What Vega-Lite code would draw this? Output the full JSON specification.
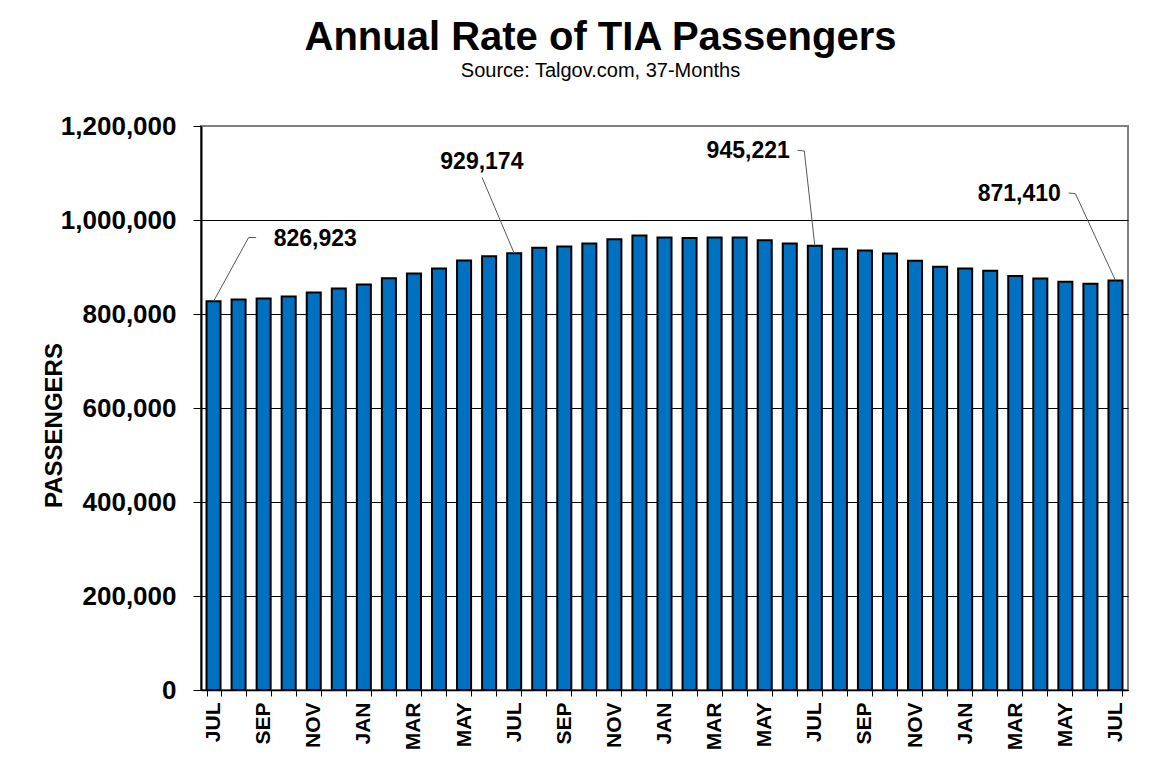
{
  "$schema": "https://vega.github.io/schema/vega-lite/v6.json",
  "autosize": "none",
  "padding": {"left": 201, "top": 126, "right": 47, "bottom": 80},
  "width": 927,
  "height": 564,
  "background": "white",
  "title": {
    "text": "Annual Rate of TIA Passengers",
    "subtitle": "Source: Talgov.com, 37-Months",
    "font": "Liberation Sans",
    "fontSize": 40,
    "fontWeight": "bold",
    "color": "black",
    "subtitleFont": "Liberation Sans",
    "subtitleFontSize": 20,
    "subtitleColor": "black",
    "subtitlePadding": 3,
    "anchor": "middle",
    "dx": -64,
    "offset": 32
  },
  "datasets": {
    "months": [
      {"n": 0, "month": "JUL", "passengers": 826923},
      {"n": 1, "month": "AUG", "passengers": 831000},
      {"n": 2, "month": "SEP", "passengers": 833000},
      {"n": 3, "month": "OCT", "passengers": 837000},
      {"n": 4, "month": "NOV", "passengers": 846000},
      {"n": 5, "month": "DEC", "passengers": 854000},
      {"n": 6, "month": "JAN", "passengers": 863000},
      {"n": 7, "month": "FEB", "passengers": 876000},
      {"n": 8, "month": "MAR", "passengers": 886000},
      {"n": 9, "month": "APR", "passengers": 897000},
      {"n": 10, "month": "MAY", "passengers": 914000},
      {"n": 11, "month": "JUN", "passengers": 923000},
      {"n": 12, "month": "JUL", "passengers": 929174},
      {"n": 13, "month": "AUG", "passengers": 941000},
      {"n": 14, "month": "SEP", "passengers": 943500},
      {"n": 15, "month": "OCT", "passengers": 950000},
      {"n": 16, "month": "NOV", "passengers": 959000},
      {"n": 17, "month": "DEC", "passengers": 967000},
      {"n": 18, "month": "JAN", "passengers": 963000},
      {"n": 19, "month": "FEB", "passengers": 961500},
      {"n": 20, "month": "MAR", "passengers": 963000},
      {"n": 21, "month": "APR", "passengers": 963000},
      {"n": 22, "month": "MAY", "passengers": 957000},
      {"n": 23, "month": "JUN", "passengers": 950000},
      {"n": 24, "month": "JUL", "passengers": 945221},
      {"n": 25, "month": "AUG", "passengers": 939000},
      {"n": 26, "month": "SEP", "passengers": 935000},
      {"n": 27, "month": "OCT", "passengers": 928500},
      {"n": 28, "month": "NOV", "passengers": 913500},
      {"n": 29, "month": "DEC", "passengers": 900500},
      {"n": 30, "month": "JAN", "passengers": 897000},
      {"n": 31, "month": "FEB", "passengers": 892000},
      {"n": 32, "month": "MAR", "passengers": 881000},
      {"n": 33, "month": "APR", "passengers": 875500},
      {"n": 34, "month": "MAY", "passengers": 868500},
      {"n": 35, "month": "JUN", "passengers": 864500},
      {"n": 36, "month": "JUL", "passengers": 871410}
    ],
    "labels": [
      {"label": "826,923", "pos": 4.06, "passengers": 960100},
      {"label": "929,174", "pos": 10.71, "passengers": 1123400},
      {"label": "945,221", "pos": 21.34, "passengers": 1146800},
      {"label": "871,410", "pos": 32.16, "passengers": 1054800}
    ],
    "leaders": [
      {"leader": "a", "order": 1, "pos": 0, "passengers": 826923},
      {"leader": "a", "order": 2, "pos": 1.4, "passengers": 962700},
      {"leader": "a", "order": 3, "pos": 1.7, "passengers": 962700},
      {"leader": "b", "order": 1, "pos": 10.72, "passengers": 1090300},
      {"leader": "b", "order": 2, "pos": 12, "passengers": 929174},
      {"leader": "c", "order": 1, "pos": 23.31, "passengers": 1148300},
      {"leader": "c", "order": 2, "pos": 23.58, "passengers": 1146800},
      {"leader": "c", "order": 3, "pos": 24, "passengers": 945221},
      {"leader": "d", "order": 1, "pos": 34.13, "passengers": 1057300},
      {"leader": "d", "order": 2, "pos": 34.4, "passengers": 1056200},
      {"leader": "d", "order": 3, "pos": 36, "passengers": 871410}
    ]
  },
  "layer": [
    {
      "data": {"name": "months"},
      "mark": {"type": "bar", "fill": "#0070C0", "stroke": "black", "strokeWidth": 2},
      "encoding": {
        "x": {
          "field": "n",
          "type": "ordinal",
          "title": null,
          "scale": {"paddingInner": 0.44, "paddingOuter": 0.22},
          "axis": {
            "labelExpr": "datum.value % 2 == 0 ? ['JUL','AUG','SEP','OCT','NOV','DEC','JAN','FEB','MAR','APR','MAY','JUN'][datum.value % 12] : ''",
            "labelAngle": 270,
            "labelFont": "Liberation Sans",
            "labelFontSize": 21,
            "labelFontWeight": "bold",
            "labelColor": "black",
            "labelPadding": 6,
            "tickBand": "extent",
            "tickSize": 6,
            "tickColor": "black",
            "domainColor": "black",
            "domainWidth": 1.5
          }
        },
        "y": {
          "field": "passengers",
          "type": "quantitative",
          "scale": {"domain": [0, 1200000]},
          "axis": {
            "values": [0, 200000, 400000, 600000, 800000, 1000000, 1200000],
            "format": ",.0f",
            "labelFont": "Liberation Sans",
            "labelFontSize": 26,
            "labelFontWeight": "bold",
            "labelColor": "black",
            "labelPadding": 17,
            "tickSize": 8,
            "tickColor": "black",
            "domainColor": "black",
            "domainWidth": 2,
            "grid": true,
            "gridColor": {"condition": {"test": "datum.value == 1200000", "value": "#808080"}, "value": "black"},
            "gridWidth": 1,
            "title": "PASSENGERS",
            "titleFont": "Liberation Sans",
            "titleFontSize": 24,
            "titleFontWeight": "bold",
            "titleColor": "black",
            "titleAngle": 270,
            "titleAlign": "center",
            "titleBaseline": "middle",
            "titleX": -147,
            "titleY": 299
          }
        },
        "tooltip": [
          {"field": "month", "title": "Month"},
          {"field": "passengers", "title": "Passengers", "format": ","}
        ]
      }
    },
    {
      "data": {"name": "leaders"},
      "mark": {"type": "line", "color": "#595959", "strokeWidth": 1},
      "encoding": {
        "x": {"field": "pos", "type": "quantitative", "scale": {"domain": [-0.5, 36.5], "nice": false, "zero": false}, "axis": null},
        "y": {"field": "passengers", "type": "quantitative"},
        "detail": {"field": "leader"},
        "order": {"field": "order"}
      }
    },
    {
      "data": {"name": "labels"},
      "mark": {"type": "text", "font": "Liberation Sans", "fontSize": 23, "fontWeight": "bold", "color": "black", "align": "center", "baseline": "middle"},
      "encoding": {
        "x": {"field": "pos", "type": "quantitative", "scale": {"domain": [-0.5, 36.5], "nice": false, "zero": false}, "axis": null},
        "y": {"field": "passengers", "type": "quantitative"},
        "text": {"field": "label"}
      }
    }
  ],
  "resolve": {"scale": {"x": "independent"}, "axis": {"x": "independent"}},
  "config": {
    "view": {"stroke": "#808080", "strokeWidth": 2},
    "axis": {"gridOpacity": 1}
  }
}
